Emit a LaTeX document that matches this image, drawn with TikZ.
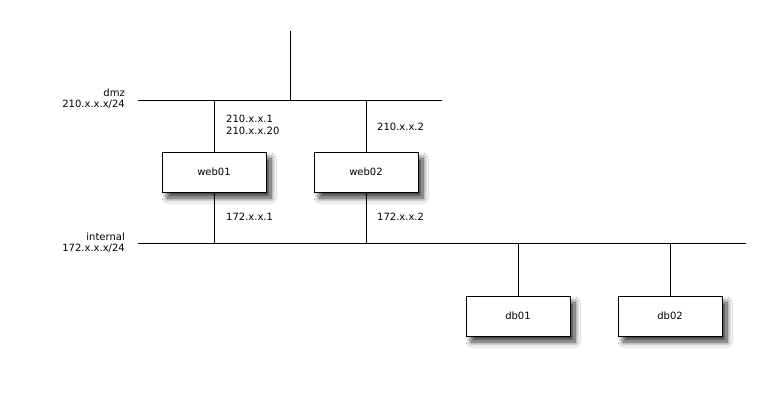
\documentclass[tikz,border=0pt]{standalone}
\usepackage{fontspec}
\setmainfont{DejaVu Sans}
\usetikzlibrary{shadows.blur}
\begin{document}
\begin{tikzpicture}[x=1pt,y=-1pt,
  wire/.style={draw=black,line width=0.9pt},
  host/.style={draw=black,line width=0.9pt,fill=white,minimum width=104pt,minimum height=40pt,
    inner sep=0pt,font=\fontsize{10}{12}\selectfont,
    blur shadow={shadow xshift=5pt,shadow yshift=-6pt,shadow blur radius=5pt,shadow opacity=75,shadow blur steps=12}},
  lbl/.style={font=\fontsize{10}{12.5}\selectfont,inner sep=0pt,align=left},
  netlbl/.style={font=\fontsize{10}{11}\selectfont,inner sep=0pt,align=right,anchor=east}]
\useasboundingbox[fill=white] (0,0) rectangle (770,418);

% network segments
\coordinate (dmzL) at (138,100);
\coordinate (dmzR) at (442,100);
\coordinate (up) at (290,31);
\coordinate (upB) at (290,100);
\coordinate (intL) at (138,243);
\coordinate (intR) at (746,243);
\draw[wire] (dmzL) -- (dmzR);
\draw[wire] (up) -- (upB);
\draw[wire] (intL) -- (intR);

% hosts
\node[host] (web01) at (214,172) {web01};
\node[host] (web02) at (366,172) {web02};
\node[host] (db01) at (518,316) {db01};
\node[host] (db02) at (670,316) {db02};

% links to segments
\draw[wire] (web01.north) -- (web01.north |- dmzL);
\draw[wire] (web02.north) -- (web02.north |- dmzL);
\draw[wire] (web01.south) -- (web01.south |- intL);
\draw[wire] (web02.south) -- (web02.south |- intL);
\draw[wire] (db01.north) -- (db01.north |- intL);
\draw[wire] (db02.north) -- (db02.north |- intL);

% network labels
\node[netlbl] (dmzname) at (125,99) {dmz\\210.x.x.x/24};
\node[netlbl] (intname) at (125,243) {internal\\172.x.x.x/24};

% address labels
\node[lbl,anchor=west] (a1) at (226,125) {210.x.x.1\\210.x.x.20};
\node[lbl,anchor=west] (a2) at (377,127) {210.x.x.2};
\node[lbl,anchor=west] (a3) at (226,217) {172.x.x.1};
\node[lbl,anchor=west] (a4) at (377,217) {172.x.x.2};
\end{tikzpicture}
\end{document}
